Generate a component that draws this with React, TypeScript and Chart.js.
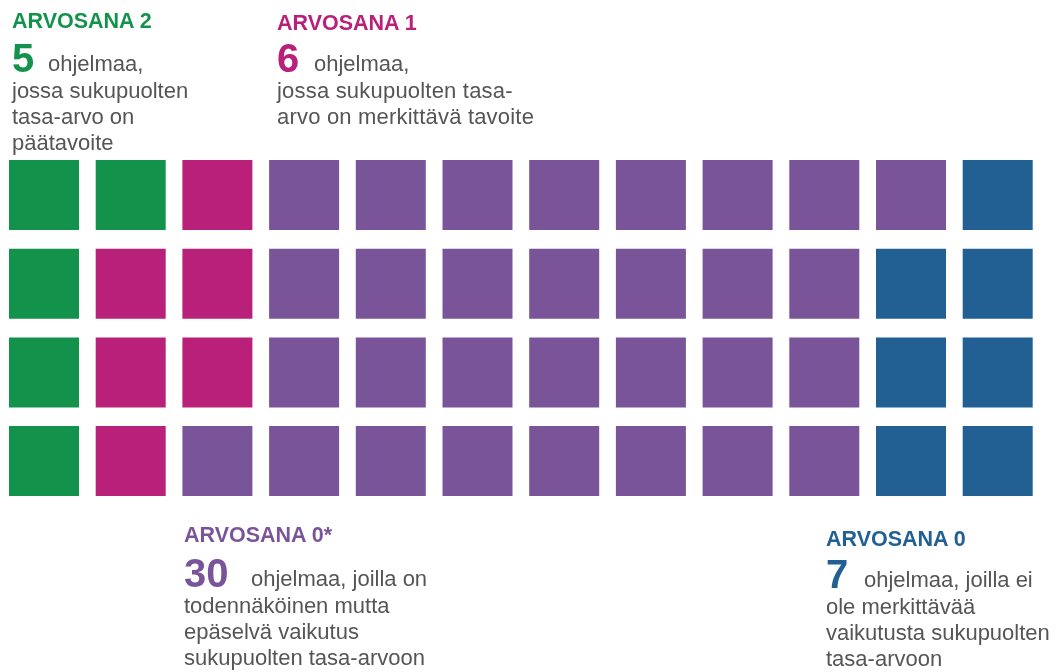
import React, { useEffect, useRef } from "react";
import { Chart, registerables } from "chart.js";

Chart.register(...registerables);

// ---- Data ----
const categories = ["ARVOSANA 2", "ARVOSANA 1", "ARVOSANA 0*", "ARVOSANA 0"];
const counts = [5, 6, 30, 7];
const colors = ["#12924a", "#b82079", "#7a5499", "#226094"];
const numberLabels = ["5", "6", "30", "7"];
const firstLineText = ["ohjelmaa,", "ohjelmaa,", "ohjelmaa, joilla on", "ohjelmaa, joilla ei"];
const restLines = [
  ["jossa sukupuolten", "tasa-arvo on", "päätavoite"],
  ["jossa sukupuolten tasa-", "arvo on merkittävä tavoite"],
  ["todennäköinen mutta", "epäselvä vaikutus", "sukupuolten tasa-arvoon"],
  ["ole merkittävää", "vaikutusta sukupuolten", "tasa-arvoon"],
];
const rowsPerColumn = 4;

// ---- Layout (positions / styles only) ----
const W = 1060;
const H = 672;
const BLEED = 40; // canvas extends beyond the page so the point padding doesn't clip columns
const FONT = '"Liberation Sans", Arial, Helvetica, sans-serif';
const TEXT_COLOR = "#555555";
const blockLayout = [
  { x: 12, headerBase: 29, numBase: 72, textX: 48, lineStep: 26.3, spacing: 0 },
  { x: 277, headerBase: 31, numBase: 72, textX: 314, lineStep: 26.3, spacing: 0.2 },
  { x: 184, headerBase: 543, numBase: 587, textX: 251, lineStep: 26.3, spacing: 0 },
  { x: 826, headerBase: 547, numBase: 588, textX: 864, lineStep: 26.3, spacing: 0 },
];
const HEADER_SIZE = 21.5;
const NUM_SIZE = 40;
const BODY_SIZE = 22;
const COL_STEP = 86.7;
const ROW_STEP = 88.7;
const FIRST_COL_CENTER = 44;
const FIRST_ROW_CENTER = 195;
const SQUARE = 70;

function Txt(props: {
  x: number;
  base: number;
  size: number;
  bold?: boolean;
  color: string;
  spacing?: number;
  children: React.ReactNode;
}) {
  const { x, base, size, bold, color, spacing, children } = props;
  return (
    <div
      style={{
        position: "absolute",
        left: x,
        top: base - 0.8465 * size,
        fontSize: size,
        lineHeight: `${size}px`,
        fontWeight: bold ? 700 : 400,
        color,
        fontFamily: FONT,
        whiteSpace: "nowrap",
        letterSpacing: spacing ? `${spacing}px` : undefined,
      }}
    >
      {children}
    </div>
  );
}

export default function App() {
  const canvasRef = useRef<HTMLCanvasElement | null>(null);

  useEffect(() => {
    const canvas = canvasRef.current;
    if (!canvas) return;

    const points: { x: number; y: number }[] = [];
    const pointColors: string[] = [];
    let idx = 0;
    counts.forEach((n, ci) => {
      for (let k = 0; k < n; k++) {
        points.push({ x: Math.floor(idx / rowsPerColumn), y: idx % rowsPerColumn });
        pointColors.push(colors[ci]);
        idx++;
      }
    });

    const radius = SQUARE / 2 / Math.SQRT1_2;

    const chart = new Chart(canvas, {
      type: "scatter",
      data: {
        datasets: [
          {
            data: points,
            pointStyle: "rect",
            pointRadius: radius,
            pointHoverRadius: radius,
            pointBackgroundColor: pointColors,
            pointBorderWidth: 0,
            pointBorderColor: pointColors,
            clip: false,
          },
        ],
      },
      options: {
        animation: false,
        responsive: false,
        layout: { padding: 0 },
        plugins: { legend: { display: false }, tooltip: { enabled: false } },
        scales: {
          x: { type: "linear", display: false, min: -1, max: 12 },
          y: { type: "linear", display: false, min: -1, max: 4, reverse: true },
        },
      },
    });

    // Calibrate the scale ranges to the actual chart area so squares land on the grid.
    const area = chart.chartArea;
    const colCenter0 = FIRST_COL_CENTER + BLEED;
    const rowCenter0 = FIRST_ROW_CENTER + BLEED;
    const xMin = (area.left - colCenter0) / COL_STEP;
    const xMax = xMin + (area.right - area.left) / COL_STEP;
    const yMin = (area.top - rowCenter0) / ROW_STEP;
    const yMax = yMin + (area.bottom - area.top) / ROW_STEP;
    const sx: any = chart.options.scales!.x;
    const sy: any = chart.options.scales!.y;
    sx.min = xMin;
    sx.max = xMax;
    sy.min = yMin;
    sy.max = yMax;
    chart.update();

    return () => chart.destroy();
  }, []);

  return (
    <div
      style={{
        position: "fixed",
        left: 0,
        top: 0,
        width: W,
        height: H,
        background: "#fff",
        overflow: "hidden",
      }}
    >
      <canvas
        ref={canvasRef}
        width={W + 2 * BLEED}
        height={H + 2 * BLEED}
        style={{ position: "absolute", left: -BLEED, top: -BLEED }}
      />
      {categories.map((cat, i) => {
        const L = blockLayout[i];
        return (
          <React.Fragment key={cat}>
            <Txt x={L.x} base={L.headerBase} size={HEADER_SIZE} bold color={colors[i]}>
              {cat}
            </Txt>
            <Txt x={L.x} base={L.numBase} size={NUM_SIZE} bold color={colors[i]}>
              {numberLabels[i]}
            </Txt>
            <Txt x={L.textX} base={L.numBase} size={BODY_SIZE} color={TEXT_COLOR}>
              {firstLineText[i]}
            </Txt>
            {restLines[i].map((line, j) => (
              <Txt
                key={j}
                x={L.x}
                base={L.numBase + (j + 1) * L.lineStep}
                size={BODY_SIZE}
                color={TEXT_COLOR}
                spacing={L.spacing}
              >
                {line}
              </Txt>
            ))}
          </React.Fragment>
        );
      })}
    </div>
  );
}
